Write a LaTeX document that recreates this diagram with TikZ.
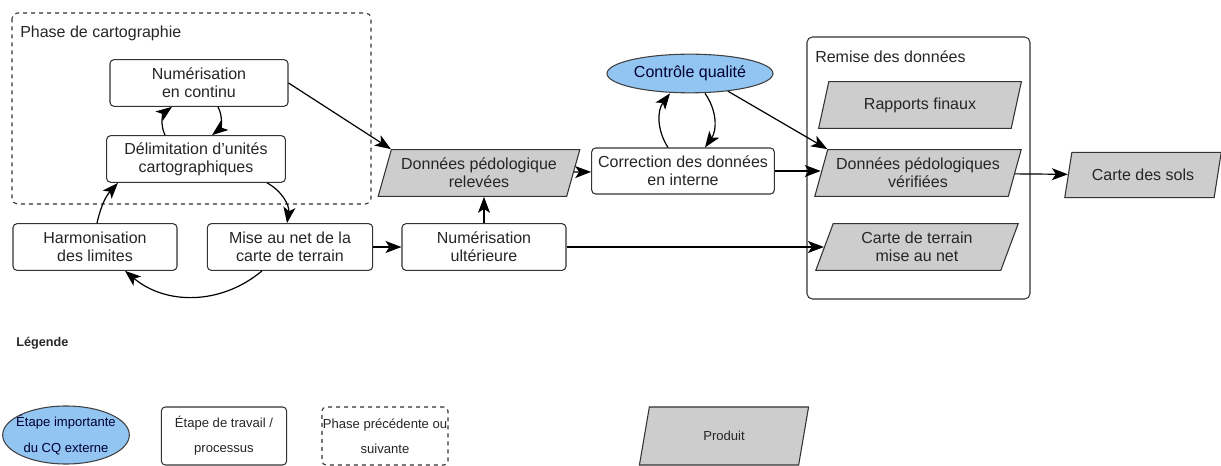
\documentclass[tikz,border=0pt]{standalone}
\usepackage{fontspec}
\setmainfont{Liberation Sans}
\usetikzlibrary{shapes.geometric, arrows.meta, positioning, calc}
\definecolor{qcBlue}{RGB}{146,197,242}
\definecolor{prodGray}{RGB}{205,205,205}
\tikzset{
    % Shapes
    base/.style={font=\fontsize{12}{13.5}\selectfont, text=black!85, align=center, line width=0.8pt},
    proc/.style={base, rectangle, draw=black!80, fill=white, rounded corners=3pt,
                 minimum height=35pt, inner sep=2pt},
    prod/.style={base, trapezium, trapezium left angle=70, trapezium right angle=110,
                 trapezium stretches=true, draw=black!80, fill=prodGray, minimum height=35pt, inner sep=1pt},
    qc/.style={base, ellipse, draw=black!75, fill=qcBlue, text=blue!20!black, inner sep=0pt},
    group/.style={rectangle, draw=black!80, rounded corners=4pt, line width=0.8pt},
    % Flow & Labels
    flow/.style={-{Stealth[length=12pt, width=9pt, inset=3pt]}, line width=0.9pt, black},
    lbl/.style={font=\fontsize{12}{13.5}\selectfont, text=black!85, anchor=west, inner sep=0pt},
    legText/.style={font=\fontsize{9.8}{19}\selectfont, minimum height=43.5pt, inner sep=0pt}
}

\begin{document}
\begin{tikzpicture}[x=0.75pt, y=0.75pt]

\useasboundingbox (0,0) rectangle (1221,-466);

% groups
\draw[group, dashed] (12,-13) rectangle (371,-204);
\node[lbl] (phaseLbl) at (20,-33) {Phase de cartographie};
\draw[group] (807,-37) rectangle (1030,-299);
\node[lbl] (remiseLbl) at (815,-57) {Remise des données};

% steps
\node[proc, minimum width=133.5pt] (num) at (199,-83) {Numérisation\\en continu};
\node[proc, minimum width=134pt] (delim) at (196,-159) {Délimitation d'unités\\cartographiques};
\node[proc, minimum width=123pt] (harm) at (95,-247) {Harmonisation\\des limites};
\node[proc, minimum width=124pt] (misenet) at (290,-247) {Mise au net de la\\carte de terrain};
\node[proc, minimum width=123pt] (numult) at (484,-247) {Numérisation\\ultérieure};
\node[proc, minimum width=137pt, minimum height=34.5pt] (corr) at (683,-171) {Correction des données\\en interne};
\node[qc, minimum width=124.5pt, minimum height=29pt] (cq) at (690,-73.5) {Contrôle qualité};

% products
\node[prod, minimum width=151.5pt] (donrel) at (479,-173) {Données pédologique\\relevées};
\node[prod, minimum width=153pt] (rapports) at (920,-105) {Rapports finaux};
\node[prod, minimum width=155pt] (donver) at (918,-173) {Données pédologiques\\vérifiées};
\node[prod, minimum width=152pt] (terrain) at (917,-247) {Carte de terrain\\mise au net};
\node[prod, minimum width=118pt, minimum height=34pt] (sols) at (1143,-175) {Carte des sols};

% connections
\draw[flow] ($(delim.north)+(-31,0)$) to[bend left=40] ($(num.south)+(-27,0)$);
\draw[flow] ($(num.south)+(19,0)$) to[bend left=40] ($(delim.north)+(16,0)$);
\draw[flow] ($(harm.north)+(2,0)$) to[bend left=15] ($(delim.south)+(-78,0)$);
\draw[flow] ($(delim.south)+(71,0)$) to[bend left=35] ($(misenet.north)+(-3,0)$);
\draw[flow] ($(misenet.south)+(-28,0)$) to[bend left=40] ($(harm.south)+(30,0)$);
\draw[flow] (misenet) -- (numult);
\draw[flow] (numult.north) -- (numult.north |- donrel.south);
\draw[flow] (num.east) -- (donrel.top left corner);
\draw[flow] (donrel) -- (corr);
\draw[flow] ($(corr.north)+(-15,0)$) to[bend left=35] ($(cq.south)+(-20,0)$);
\draw[flow] ($(cq.south)+(15,0)$) to[bend left=35] ($(corr.north)+(22,0)$);
\draw[flow] (cq.-25) -- (donver.top left corner);
\draw[flow] (corr.east) -- (corr.east -| donver.west);
\draw[flow] (numult.east) -- (numult.east -| terrain.west);
\draw[flow] (donver) -- (sols);

% legend
\node[font=\fontsize{9.5}{10}\selectfont\bfseries, text=black!85, anchor=west, inner sep=0pt] (legTitle) at (16,-343) {Légende};
\node[qc, legText, inner xsep=-6pt, minimum width=95pt] (legCQ) at (66,-435) {Étape importante\\du CQ externe};
\node[proc, legText, minimum width=94pt] (legEtape) at (224,-436) {Étape de travail /\\processus};
\node[proc, legText, dashed, minimum width=94.5pt] (legPhase) at (385,-436) {Phase précédente ou\\suivante};
\node[prod, legText, trapezium left angle=74, trapezium right angle=106, minimum width=127pt] (legProduit) at (724,-436) {Produit};

\end{tikzpicture}
\end{document}
